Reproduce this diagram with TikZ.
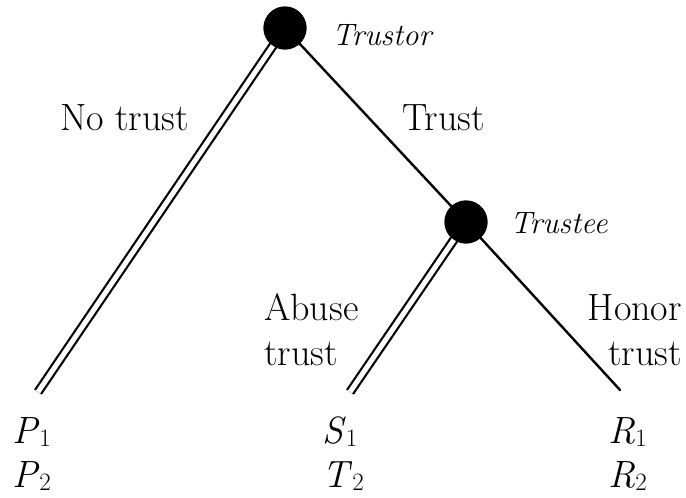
\documentclass[tikz,border=0pt]{standalone}
\usepackage{fontspec}
\begin{document}
\begin{tikzpicture}[x=1pt,y=-1pt,
  lbl/.style={inner sep=0pt, anchor=base west, font=\fontsize{38}{40}\selectfont},
  ilbl/.style={lbl, font=\fontsize{31}{40}\selectfont\itshape},
  ball/.style={circle, fill=black, minimum size=43pt, inner sep=0pt},
  single/.style={line width=2.4pt, line cap=round},
  dbl/.style={double, double distance=5pt, line width=2.2pt, line cap=butt}]
\useasboundingbox (0,0) rectangle (686,498);
\newcommand{\sub}[2]{\textit{#1}\raisebox{-0.2ex}{\fontsize{25}{25}\selectfont #2}}
\node[ball] (trustor) at (285,28) {};
\node[ball] (trustee) at (466,222) {};
\coordinate (l1) at (38,392);
\coordinate (l2) at (350,392);
\coordinate (l3) at (620,390);
\draw[dbl] (trustor.center) -- (l1);
\draw[single] (trustor.center) -- (trustee.center);
\draw[dbl] (trustee.center) -- (l2);
\draw[single] (trustee.center) -- (l3);
\node[ball] at (trustor) {};
\node[ball] at (trustee) {};
\node[ilbl] (ttor) at (332,45) {Trustor};
\node[ilbl] (ttee) at (510,233) {Trustee};
\node[lbl] (nt) at (60,130) {No trust};
\node[lbl] (tr) at (402,130) {Trust};
\node[lbl] (ab1) at (264,320) {Abuse};
\node[lbl] (ab2) at (264,365) {trust};
\node[lbl, anchor=base east] (ho1) at (682,320) {Honor};
\node[lbl, anchor=base east] (ho2) at (682,365) {trust};
\node[lbl] (p1) at (12,443) {\sub{P}{1}};
\node[lbl] (p2) at (12,487) {\sub{P}{2}};
\node[lbl] (s1) at (322,443) {\sub{S}{1}};
\node[lbl] (t2) at (322,487) {\sub{T}{2}};
\node[lbl] (r1) at (608,443) {\sub{R}{1}};
\node[lbl] (r2) at (608,487) {\sub{R}{2}};
\end{tikzpicture}
\end{document}
